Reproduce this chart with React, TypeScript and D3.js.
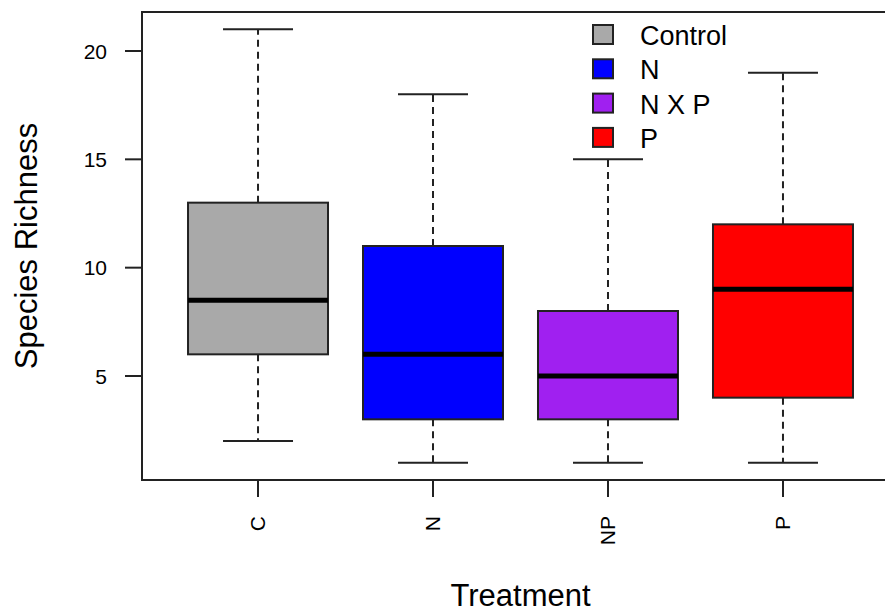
import React from "react";
import * as d3 from "d3";

const categories = ["C", "N", "NP", "P"];
const whiskerLow = [2, 1, 1, 1];
const q1 = [6, 3, 3, 4];
const medians = [8.5, 6, 5, 9];
const q3 = [13, 11, 8, 12];
const whiskerHigh = [21, 18, 15, 19];
const fills = ["#A9A9A9", "#0000FF", "#A020F0", "#FF0000"];
const legendLabels = ["Control", "N", "N X P", "P"];
const yTicks = [5, 10, 15, 20];

const W = 885;
const H = 613;
const left = 142;
const right = 899;
const top = 12;
const bottom = 480;

export default function App() {
  const x = d3.scaleLinear().domain([0.337, 4.663]).range([left, right]);
  const y = d3.scaleLinear().domain([0.2, 21.8]).range([bottom, top]);
  const unit = x(2) - x(1);
  const bw = 0.8 * unit;
  const cw = 0.4 * unit;
  const font = "Liberation Sans, Arial, sans-serif";
  const stroke = "#222";

  return (
    <svg width={W} height={H} style={{ position: "absolute", left: 0, top: 0 }} fontFamily={font}>
      <rect width={W} height={H} fill="#fff" />
      {categories.map((c, i) => {
        const cx = x(i + 1);
        return (
          <g key={c}>
            <line x1={cx} x2={cx} y1={y(q3[i])} y2={y(whiskerHigh[i])} stroke={stroke} strokeWidth={2} strokeDasharray="7,5" />
            <line x1={cx} x2={cx} y1={y(q1[i])} y2={y(whiskerLow[i])} stroke={stroke} strokeWidth={2} strokeDasharray="7,5" />
            <line x1={cx - cw / 2} x2={cx + cw / 2} y1={y(whiskerHigh[i])} y2={y(whiskerHigh[i])} stroke={stroke} strokeWidth={2} />
            <line x1={cx - cw / 2} x2={cx + cw / 2} y1={y(whiskerLow[i])} y2={y(whiskerLow[i])} stroke={stroke} strokeWidth={2} />
            <rect x={cx - bw / 2} y={y(q3[i])} width={bw} height={y(q1[i]) - y(q3[i])} fill={fills[i]} stroke={stroke} strokeWidth={2} />
            <line x1={cx - bw / 2} x2={cx + bw / 2} y1={y(medians[i])} y2={y(medians[i])} stroke="#000" strokeWidth={5} />
            <line x1={cx} x2={cx} y1={bottom} y2={bottom + 17} stroke={stroke} strokeWidth={2} />
            <text transform={`translate(${cx + 7},${bottom + 36}) rotate(-90)`} textAnchor="end" fontSize={21} fill="#000">{c}</text>
          </g>
        );
      })}
      {yTicks.map((t) => (
        <g key={t}>
          <line x1={left - 17} x2={left} y1={y(t)} y2={y(t)} stroke={stroke} strokeWidth={2} />
          <text x={left - 35} y={y(t) + 7.5} textAnchor="end" fontSize={21} fill="#000">{t}</text>
        </g>
      ))}
      <rect x={left} y={top} width={right - left} height={bottom - top} fill="none" stroke={stroke} strokeWidth={2} />
      {legendLabels.map((l, i) => (
        <g key={l}>
          <rect x={593} y={25 + i * 34.3} width={20} height={19} fill={fills[i]} stroke={stroke} strokeWidth={2} />
          <text x={640} y={45 + i * 34.3} fontSize={27} fill="#000">{l}</text>
        </g>
      ))}
      <text x={(left + right) / 2} y={606} textAnchor="middle" fontSize={31} fill="#000">Treatment</text>
      <text transform={`translate(37,${(top + bottom) / 2}) rotate(-90)`} textAnchor="middle" fontSize={31} fill="#000">Species Richness</text>
    </svg>
  );
}
